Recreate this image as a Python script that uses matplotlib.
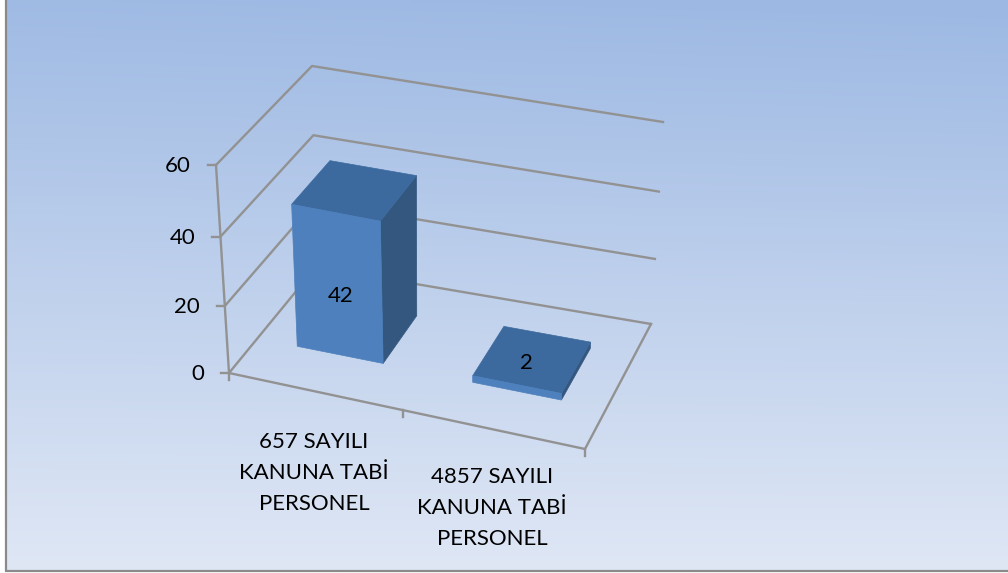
import numpy as np
import matplotlib
matplotlib.use('Agg')
import matplotlib.pyplot as plt
from matplotlib.patches import Polygon

plt.rcParams['font.family'] = ['Lato', 'DejaVu Sans']

categories = ['657 SAYILI\nKANUNA TABİ\nPERSONEL', '4857 SAYILI\nKANUNA TABİ\nPERSONEL']
values = [42, 2]
y_ticks = [0, 20, 40, 60]
y_max = 60

# where the bars sit on the floor, as fractions of width and depth
bar_u = [(0.114, 0.36), (0.618, 0.872)]
bar_v = [(0.327, 0.75), (0.32, 0.74)]

# pixel corners of the 3d box
floor = {'fl': (229, 373), 'fr': (585, 449), 'bl': (316, 267), 'br': (651, 324)}
roof = {'fl': (216, 165), 'fr': (589, 239), 'bl': (312, 66), 'br': (663, 122)}


def bilinear(c, u, v):
    fl, fr, bl, br = [np.array(c[k], float) for k in ('fl', 'fr', 'bl', 'br')]
    return (fl * (1 - u) + fr * u) * (1 - v) + (bl * (1 - u) + br * u) * v


def proj(u, val, v):
    t = val / y_max
    t = t - 0.05 * t * (1 - t)  # small perspective bend
    return bilinear(floor, u, v) * (1 - t) + bilinear(roof, u, v) * t


fig = plt.figure(figsize=(10.08, 5.73), dpi=100)
ax = fig.add_axes([0, 0, 1, 1])
ax.axis('off')

# background gradient, slightly tilted so the top right is darkest
yy, xx = np.mgrid[0:1:120j, 0:1:200j]
g = np.clip(yy + 0.05 * (1 - xx) * (1 - yy), 0, 1)
top = np.array([156, 184, 227]) / 255
bottom = np.array([223, 231, 245]) / 255
grad = top[None, None, :] * (1 - g[..., None]) + bottom[None, None, :] * g[..., None]
ax.imshow(grad, extent=(6, 1008, 571, 0), aspect='auto', zorder=0, interpolation='bilinear')
ax.set_xlim(0, 1008)
ax.set_ylim(573, 0)
ax.plot([5.5, 5.5, 1008], [0, 571, 571], color='#8a8a8a', lw=1.6, zorder=1, solid_joinstyle='miter')

grid_c = '#929292'
grid_w = 1.7
for t in y_ticks:
    p0 = proj(0, t, 0)
    p1 = proj(0, t, 1)
    p2 = proj(1, t, 1)
    ax.plot([p0[0], p1[0], p2[0]], [p0[1], p1[1], p2[1]], color=grid_c, lw=grid_w, zorder=2)
    ax.plot([p0[0] - 8, p0[0]], [p0[1], p0[1]], color=grid_c, lw=grid_w, zorder=2)
    ax.text(p0[0] - 25, p0[1] + 1.5, str(t), ha='right', va='center', fontsize=16, color='black', zorder=6)

# left axis and the open edges of the floor
a = proj(0, 0, 0)
b = proj(0, y_max, 0)
ax.plot([a[0], b[0]], [a[1], b[1]], color=grid_c, lw=grid_w, zorder=2)
c = proj(1, 0, 0)
d = proj(1, 0, 1)
ax.plot([a[0], c[0], d[0]], [a[1], c[1], d[1]], color=grid_c, lw=grid_w, zorder=2)
for u in [0, 0.49, 1]:
    p = proj(u, 0, 0)
    ax.plot([p[0], p[0]], [p[1], p[1] + 7], color=grid_c, lw=grid_w, zorder=2)

for i, val in enumerate(values):
    u0, u1 = bar_u[i]
    v0, v1 = bar_v[i]
    front = [proj(u0, 0, v0), proj(u1, 0, v0), proj(u1, val, v0), proj(u0, val, v0)]
    side = [proj(u1, 0, v0), proj(u1, 0, v1), proj(u1, val, v1), proj(u1, val, v0)]
    lid = [proj(u0, val, v0), proj(u1, val, v0), proj(u1, val, v1), proj(u0, val, v1)]
    ax.add_patch(Polygon(side, closed=True, fc='#34577f', ec='#34577f', lw=0.5, zorder=3))
    ax.add_patch(Polygon(lid, closed=True, fc='#3c6a9e', ec='#3c6a9e', lw=0.5, zorder=3))
    ax.add_patch(Polygon(front, closed=True, fc='#4d80bd', ec='#4d80bd', lw=0.5, zorder=4))

ax.text(340.5, 296, str(values[0]), ha='center', va='center', fontsize=16, color='black', zorder=6)
ax.text(526, 363, str(values[1]), ha='center', va='center', fontsize=16, color='black', zorder=6)

ax.text(314, 473, categories[0], ha='center', va='center', fontsize=16, linespacing=1.66, color='black', zorder=6)
ax.text(492, 508, categories[1], ha='center', va='center', fontsize=16, linespacing=1.66, color='black', zorder=6)

fig.savefig('out.png', dpi=100)
